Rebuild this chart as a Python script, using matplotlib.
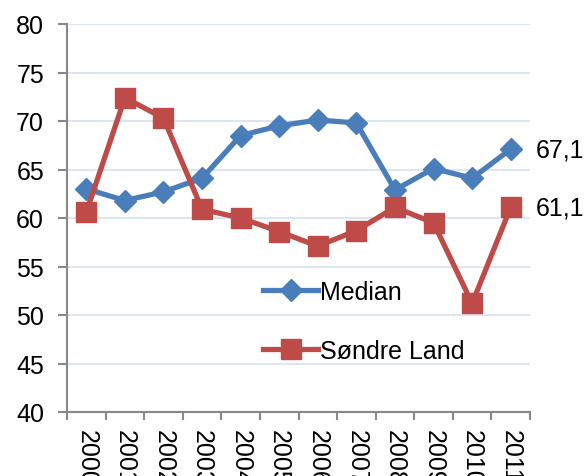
import matplotlib
matplotlib.use("Agg")
import matplotlib.pyplot as plt
import numpy as np

years = ["2000", "2001", "2002", "2003", "2004", "2005", "2006", "2007", "2008", "2009", "2010", "2011"]
median = [63.0, 61.8, 62.7, 64.1, 68.5, 69.5, 70.1, 69.8, 62.9, 65.1, 64.1, 67.1]
sondre = [60.6, 72.4, 70.3, 60.9, 60.0, 58.6, 57.1, 58.7, 61.1, 59.5, 51.2, 61.1]
end_labels = ["67,1", "61,1"]

plt.rcParams['font.family'] = ['Liberation Sans', 'DejaVu Sans']
FS = 18

fig = plt.figure(figsize=(5.87, 4.77), dpi=100)
ax = fig.add_axes([67/587, 1 - 413/477, (530-67)/587, (413-25)/477])

x = np.arange(len(years))
blue = "#4a7ebb"
red = "#be4b48"
ax.plot(x, median, color=blue, lw=3.8, marker="D", ms=11, label="Median", zorder=3)
ax.plot(x, sondre, color=red, lw=3.8, marker="s", ms=14, label="Søndre Land", zorder=3)

ax.set_xlim(-0.5, len(years) - 0.5)
ax.set_ylim(40, 80)
ax.set_yticks(np.arange(40, 81, 5))
ax.yaxis.grid(True, color="#dce6f2", lw=1.5)
ax.set_axisbelow(True)

ax.set_xticks(np.arange(-0.5, len(years), 1.0))
ax.set_xticklabels([])
ax.set_xticks(x, minor=True)
ax.set_xticklabels(years, minor=True, rotation=-90, fontsize=FS)
ax.tick_params(axis="x", which="minor", length=0, pad=12)
ax.tick_params(axis="x", which="major", length=6, width=1.5, color="#888888", direction="out")
ax.tick_params(axis="y", length=6.5, width=1.5, color="#888888", labelsize=FS, pad=10)

for s in ["top", "right"]:
    ax.spines[s].set_visible(False)
for s in ["left", "bottom"]:
    ax.spines[s].set_color("#888888")
    ax.spines[s].set_linewidth(1.5)

ax.annotate(end_labels[0], (x[-1], median[-1]), xytext=(18, 0), textcoords="offset points",
            fontsize=FS, va="center", ha="left", annotation_clip=False)
ax.annotate(end_labels[1], (x[-1], sondre[-1]), xytext=(18, 0), textcoords="offset points",
            fontsize=FS, va="center", ha="left", annotation_clip=False)

leg = ax.legend(loc="upper left", bbox_to_anchor=((253-67)/463, (413-271)/388), frameon=False,
                fontsize=FS, handlelength=2.2, handletextpad=0.1, labelspacing=1.4,
                borderaxespad=0)

fig.savefig("out.png", dpi=100)
